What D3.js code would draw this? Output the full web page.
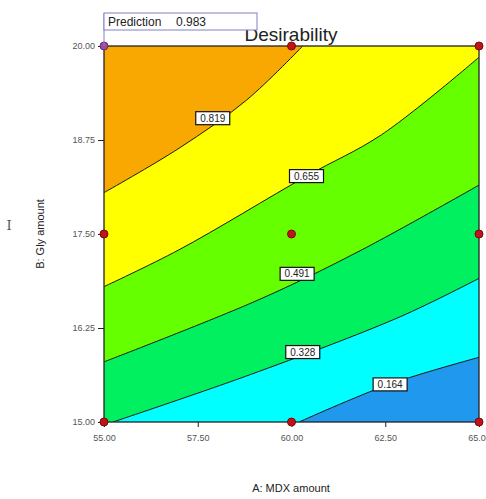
<!DOCTYPE html>
<html>
<head>
<meta charset="utf-8">
<script src="https://cdn.jsdelivr.net/npm/d3@7"></script>
<style>
body { margin: 0; background: #fff; }
text { font-family: "Liberation Sans", Arial, sans-serif; }
</style>
</head>
<body>
<div id="chart"></div>
<script>
// contour levels, lowest first, and the band colours (index 0 = below lowest level)
var levels = [0.164, 0.328, 0.491, 0.655, 0.819];
var bandColors = ["#1f98ee", "#00ffff", "#00f060", "#66ff00", "#ffff00", "#f8a800"];

// contour lines, [A: MDX, B: Gly]
var line164 = [[60.2, 15], [62.6, 15.5], [65, 15.86]];
var line328 = [[55.24, 15], [58.9, 15.63], [62.9, 16.40], [65, 16.91]];
var line491 = [[55, 15.80], [59.1, 16.62], [61.8, 17.27], [65, 18.15]];
var line655 = [[55, 16.80], [57, 17.29], [60.4, 18.27], [62.4, 18.82], [65, 19.85]];
var line819 = [[55, 18.05], [57, 18.64], [58.8, 19.28], [60.3, 20]];
var contourLines = [line164, line328, line491, line655, line819];

// where the level labels sit
var labelPos = [[62.63, 15.5], [60.3, 15.93], [60.15, 16.97], [60.4, 18.27], [57.9, 19.04]];

// design points
var designA = [55, 60, 65, 55, 60, 65, 55, 60, 65];
var designB = [20, 20, 20, 17.5, 17.5, 17.5, 15, 15, 15];

var xTicks = [55, 57.5, 60, 62.5, 65];
var yTicks = [15, 16.25, 17.5, 18.75, 20];
var prediction = 0.983;

var width = 486, height = 499;
var padding = {top: 46, bottom: 77, left: 104, right: 7};

var svg = d3.select("#chart").append("svg").attr("width", width).attr("height", height);

var x = d3.scaleLinear().domain([55, 65]).range([padding.left, width - padding.right]);
var y = d3.scaleLinear().domain([15, 20]).range([height - padding.bottom, padding.top]);

svg.append("defs").append("clipPath").attr("id", "plotclip")
	.append("rect")
	.attr("x", x(55)).attr("y", y(20))
	.attr("width", x(65) - x(55)).attr("height", y(15) - y(20));

var curve = d3.line().x(function(d) { return x(d[0]); }).y(function(d) { return y(d[1]); })
	.curve(d3.curveCatmullRom);

var plot = svg.append("g").attr("clip-path", "url(#plotclip)");

// lowest band fills the whole square
plot.append("rect")
	.attr("x", x(55)).attr("y", y(20))
	.attr("width", x(65) - x(55)).attr("height", y(15) - y(20))
	.style("fill", bandColors[0]);

// each level: fill the area above-left of its line
for (var i = 0; i < contourLines.length; i++) {
	var pts = contourLines[i];
	var first = pts[0], last = pts[pts.length - 1];
	var path = curve(pts);
	if (last[0] >= 65) { path += "L" + x(65) + "," + y(20); }
	path += "L" + x(55) + "," + y(20);
	if (first[1] <= 15) { path += "L" + x(55) + "," + y(15); }
	path += "Z";
	plot.append("path").attr("d", path).style("fill", bandColors[i + 1]).style("stroke", "none");
}

// contour lines
for (var i = 0; i < contourLines.length; i++) {
	plot.append("path")
		.attr("d", curve(contourLines[i]))
		.style("fill", "none")
		.style("stroke", "#1a1a1a")
		.style("stroke-width", 1);
}

// plot frame
svg.append("rect")
	.attr("x", x(55)).attr("y", y(20))
	.attr("width", x(65) - x(55)).attr("height", y(15) - y(20))
	.style("fill", "none").style("stroke", "#222").style("stroke-width", 1.3);

// axes
var xAxis = d3.axisBottom(x).tickValues(xTicks).tickFormat(d3.format(".2f")).tickSize(5).tickSizeOuter(0);
var yAxis = d3.axisLeft(y).tickValues(yTicks).tickFormat(d3.format(".2f")).tickSize(6).tickSizeOuter(0);

var gx = svg.append("g").attr("transform", "translate(0," + y(15) + ")").call(xAxis);
var gy = svg.append("g").attr("transform", "translate(" + x(55) + ",0)").call(yAxis);
[gx, gy].forEach(function(g) {
	g.select(".domain").remove();
	g.selectAll(".tick line").style("stroke", "#222");
	g.selectAll(".tick text").style("fill", "#555").style("font-size", "9px")
		.style("font-family", "'Liberation Sans', Arial, sans-serif");
});
gx.selectAll(".tick text").attr("dy", "1.2em");

// contour labels
for (var i = 0; i < levels.length; i++) {
	var lg = svg.append("g").attr("transform", "translate(" + x(labelPos[i][0]) + "," + y(labelPos[i][1]) + ")");
	lg.append("rect").attr("x", -17).attr("y", -6.5).attr("width", 34).attr("height", 13)
		.style("fill", "#fff").style("stroke", "#111").style("stroke-width", 1.2);
	lg.append("text").attr("text-anchor", "middle").attr("dy", "0.36em")
		.style("font-size", "10px").style("fill", "#222").text(levels[i].toFixed(3));
}

// design points
for (var i = 0; i < designA.length; i++) {
	var isPred = (designA[i] == 55 && designB[i] == 20);
	svg.append("circle")
		.attr("cx", x(designA[i])).attr("cy", y(designB[i]))
		.attr("r", 4)
		.style("fill", isPred ? "#a04a9a" : "#c0141a")
		.style("stroke", isPred ? "#6a2a70" : "#7a0a0a")
		.style("stroke-width", 1);
}

// title
svg.append("text")
	.attr("x", 291).attr("y", 41)
	.attr("text-anchor", "middle")
	.style("font-size", "19px").style("fill", "#222")
	.text("Desirability");

// prediction flag
svg.append("line")
	.attr("x1", x(55)).attr("x2", x(55)).attr("y1", 13).attr("y2", y(20))
	.style("stroke", "#8080c0");
svg.append("rect")
	.attr("x", x(55)).attr("y", 13).attr("width", 153).attr("height", 17)
	.style("fill", "#fff").style("stroke", "#8080c0").style("stroke-width", 1);
svg.append("text").attr("x", x(55) + 4).attr("y", 26)
	.style("font-size", "12px").style("fill", "#222").text("Prediction");
svg.append("text").attr("x", x(55) + 72).attr("y", 26)
	.style("font-size", "12px").style("fill", "#222").text(prediction.toFixed(3));

// axis titles
svg.append("text")
	.attr("x", 291).attr("y", 492)
	.attr("text-anchor", "middle")
	.style("font-size", "11px").style("fill", "#222")
	.text("A: MDX amount");

svg.append("text")
	.attr("transform", "translate(44," + y(17.5) + ") rotate(-90)")
	.attr("text-anchor", "middle")
	.style("font-size", "11px").style("fill", "#222")
	.text("B: Gly amount");

svg.append("text")
	.attr("x", 9).attr("y", 230)
	.attr("text-anchor", "middle")
	.style("font-size", "13px").style("fill", "#555")
	.style("font-family", "'DejaVu Serif', serif")
	.text("I");
</script>
</body>
</html>
